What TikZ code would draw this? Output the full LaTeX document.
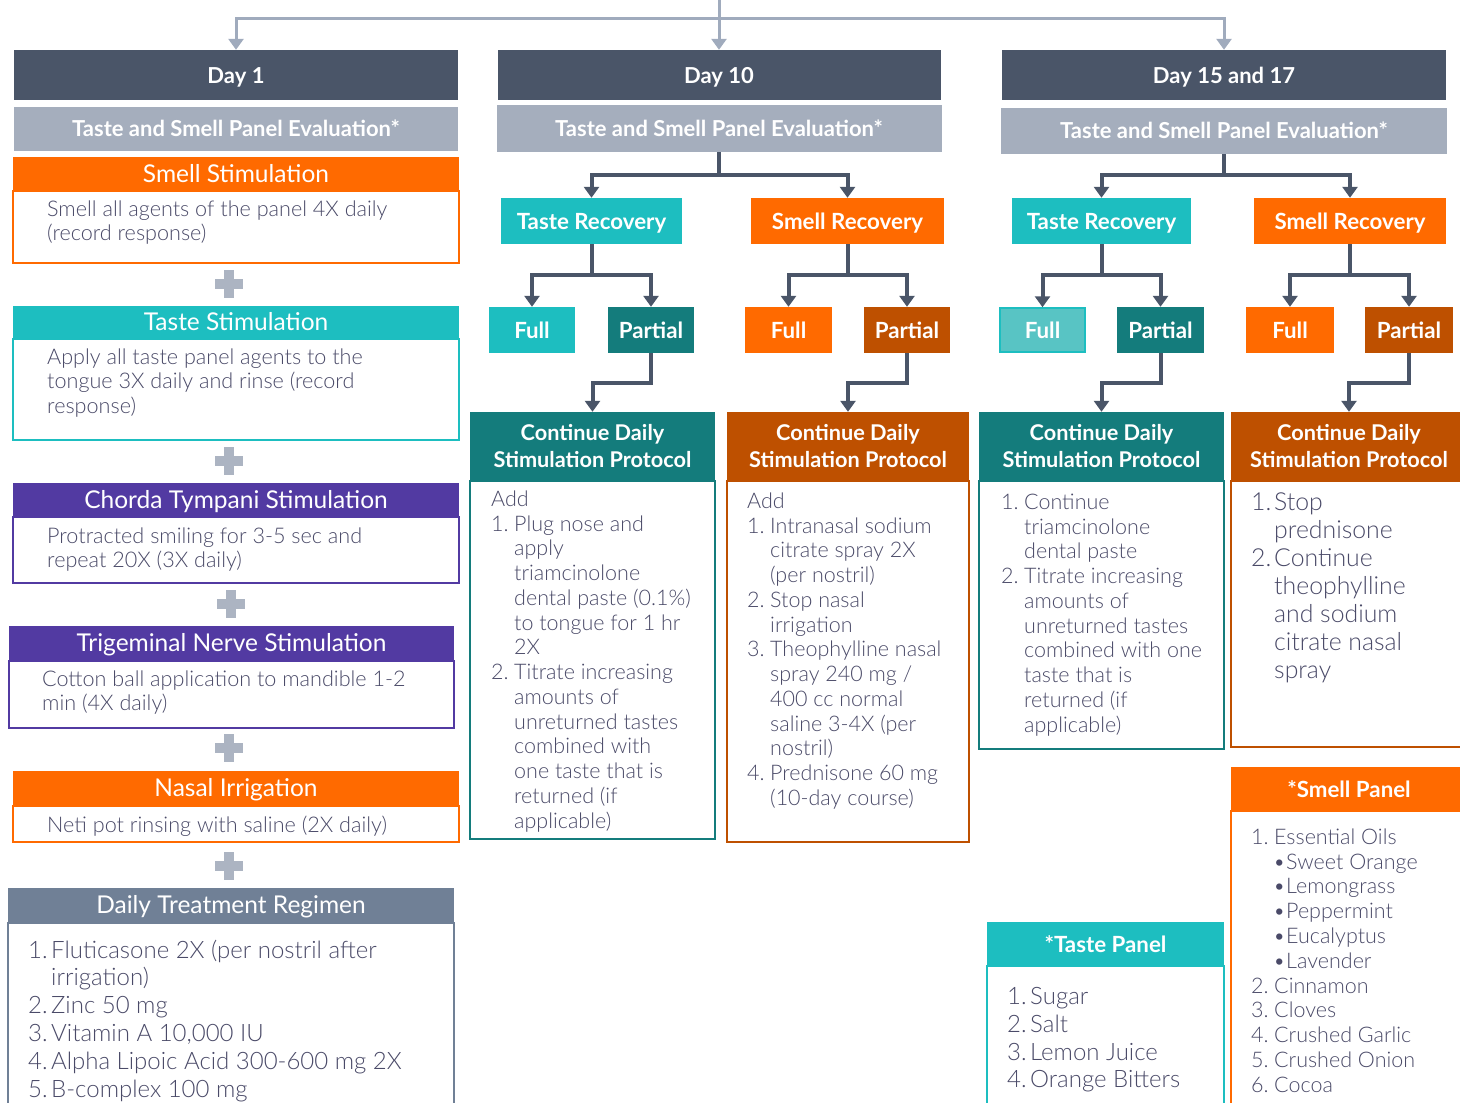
\documentclass[tikz,border=0pt]{standalone}
\usepackage{fontspec}
\setmainfont{Lato}
\IfFontExistsTF{Lato Light}{\newfontfamily\bodyfont{Lato Light}}{\newfontfamily\bodyfont{Lato}}
\usetikzlibrary{arrows.meta, positioning}
\definecolor{dayslate}{RGB}{74,85,104}
\definecolor{evalgray}{RGB}{165,174,189}
\definecolor{regimengray}{RGB}{112,128,150}
\definecolor{linkgray}{RGB}{160,171,189}
\definecolor{plusgray}{RGB}{172,180,194}
\definecolor{tasteteal}{RGB}{29,190,192}
\definecolor{tastelight}{RGB}{88,196,196}
\definecolor{tastedark}{RGB}{20,124,124}
\definecolor{smellorange}{RGB}{255,106,0}
\definecolor{smelldark}{RGB}{190,80,0}
\definecolor{nervepurple}{RGB}{82,58,162}
\definecolor{bodytext}{RGB}{74,74,104}
\newcommand{\lnum}[1]{\makebox[23pt][l]{#1}}
\newcommand{\lgap}{\hspace*{23pt}}
\newcommand{\lbul}{\hspace*{22pt}\makebox[13pt][l]{\textbullet}}

\begin{document}
\begin{tikzpicture}[x=1pt, y=-1pt,
    dayhd/.style={fill=dayslate, text=white, minimum width=#1, minimum height=50pt,
                  inner sep=0pt, text height=17.5pt, text depth=0pt,
                  font=\bfseries\fontsize{22}{26}\selectfont},
    evalhd/.style={fill=evalgray, text=white, minimum width=#1, minimum height=45pt,
                   inner sep=0pt, text height=15.5pt, text depth=0pt,
                   font=\bfseries\fontsize{22}{26}\selectfont},
    stimhd/.style={fill=#1, text=white, minimum height=33pt, inner sep=0pt,
                   text height=17.5pt, text depth=0pt, font=\fontsize{24.5}{28}\selectfont},
    body/.style={draw=#1, line width=1.5pt, fill=white, inner sep=0pt},
    recbox/.style={fill=#1, text=white, minimum height=46pt, inner sep=0pt,
                   text height=17pt, text depth=0pt, font=\bfseries\fontsize{22.3}{26}\selectfont},
    contbox/.style={fill=#1, text=white, minimum height=68pt, inner sep=0pt, align=center,
                    font=\bfseries\fontsize{21.7}{27}\selectfont},
    panelhd/.style={fill=#1, text=white, minimum height=43pt, inner sep=0pt,
                    text height=17pt, text depth=0pt, font=\bfseries\fontsize{22.3}{26}\selectfont},
    txt/.style={anchor=north west, inner sep=0pt, align=left, text=bodytext,
                execute at begin node=\strut, font=\bodyfont\fontsize{21.6}{24.5}\selectfont},
    garrow/.style={draw=linkgray, line width=3pt, -{Triangle[width=15pt,length=11pt]}},
    darrow/.style={draw=dayslate, line width=4pt, -{Triangle[width=15pt,length=11pt]}},
    plus/.style={fill=plusgray}
  ]
  \useasboundingbox (0,0) rectangle (1460,1103);

  % day headers
  \node[dayhd=444pt] (d1) at (236,75) {Day 1};
  \node[dayhd=443pt] (d10) at (719,75) {Day 10};
  \node[dayhd=444pt] (d15) at (1224,75) {Day 15 and 17};
  \node[evalhd=444pt, minimum height=44pt] (e1) at (236,129) {Taste and Smell Panel Evaluation*};
  \node[evalhd=445pt, minimum height=47pt] (e10) at (719,128.5) {Taste and Smell Panel Evaluation*};
  \node[evalhd=446pt, minimum height=46pt] (e15) at (1224,131) {Taste and Smell Panel Evaluation*};

  \coordinate (top) at (719,0);
  \coordinate (hub) at (719,18);
  \draw[draw=linkgray, line width=3pt] (top) -- (hub);
  \draw[garrow] (hub) -| (d1.north);
  \draw[garrow] (hub) -- (d10.north);
  \draw[garrow] (hub) -| (d15.north);

  % day 1
  \node[body=smellorange, minimum width=446pt, minimum height=72pt, anchor=north] (ssb) at (236,190) {};
  \node[stimhd=smellorange, minimum width=446pt] (ss) at (236,173.5) {Smell Stimulation};
  \node[txt] (ssx) at (47,200.5) {Smell all agents of the panel 4X daily\\(record response)};

  \node[body=tasteteal, minimum width=446pt, minimum height=101pt, anchor=north] (tsb) at (236,338) {};
  \node[stimhd=tasteteal, minimum width=446pt, minimum height=32pt] (ts) at (236,322) {Taste Stimulation};
  \node[txt] (tsx) at (47,348.5) {Apply all taste panel agents to the\\tongue 3X daily and rinse (record\\response)};

  \node[body=nervepurple, minimum width=446pt, minimum height=66pt, anchor=north] (ctb) at (236,516) {};
  \node[stimhd=nervepurple, minimum width=446pt] (ct) at (236,499.5) {Chorda Tympani Stimulation};
  \node[txt] (ctx) at (47,527.5) {Protracted smiling for 3-5 sec and\\repeat 20X (3X daily)};

  \node[body=nervepurple, minimum width=445pt, minimum height=67pt, anchor=north] (tgb) at (231.5,660) {};
  \node[stimhd=nervepurple, minimum width=445pt, minimum height=34pt] (tg) at (231.5,643) {Trigeminal Nerve Stimulation};
  \node[txt] (tgx) at (42,670.5) {Cotton ball application to mandible 1-2\\min (4X daily)};

  \node[body=smellorange, minimum width=446pt, minimum height=36pt, anchor=north] (nib) at (236,805) {};
  \node[stimhd=smellorange, minimum width=446pt, minimum height=34pt] (ni) at (236,788) {Nasal Irrigation};
  \node[txt] (nix) at (47,815.5) {Neti pot rinsing with saline (2X daily)};

  \node[body=regimengray, minimum width=446pt, minimum height=200pt, anchor=north] (dtb) at (231,922) {};
  \node[stimhd=regimengray, minimum width=446pt, minimum height=34pt] (dt) at (231,905) {Daily Treatment Regimen};
  \node[txt, font=\bodyfont\fontsize{24}{27.8}\selectfont] (dtx) at (28,939.6)
    {\lnum{1.}Fluticasone 2X (per nostril after\\\lgap irrigation)\\\lnum{2.}Zinc 50 mg\\\lnum{3.}Vitamin A 10,000 IU\\\lnum{4.}Alpha Lipoic Acid 300-600 mg 2X\\\lnum{5.}B-complex 100 mg};

  \foreach \px/\py in {229/284, 229/461, 231/604, 229/748, 229/866} {
    \fill[plus] (\px-5,\py-14) rectangle (\px+5,\py+14);
    \fill[plus] (\px-14,\py-5) rectangle (\px+14,\py+5);
  }

  % day 10
  \node[recbox=tasteteal, minimum width=181pt] (tr10) at (591.5,221) {Taste Recovery};
  \node[recbox=smellorange, minimum width=193pt] (sr10) at (847.5,221) {Smell Recovery};
  \node[recbox=tasteteal, minimum width=86pt] (f10t) at (532,330) {Full};
  \node[recbox=tastedark, minimum width=86pt] (p10t) at (651,330) {Partial};
  \node[recbox=smellorange, minimum width=87pt] (f10s) at (788.5,330) {Full};
  \node[recbox=smelldark, minimum width=86pt] (p10s) at (907,330) {Partial};
  \node[body=tastedark, minimum width=245pt, minimum height=358pt, anchor=north] (c10tb) at (592.5,480) {};
  \node[contbox=tastedark, minimum width=245pt] (c10t) at (592.5,446) {Continue Daily\\Stimulation Protocol};
  \node[body=smelldark, minimum width=242pt, minimum height=361pt, anchor=north] (c10sb) at (848,480) {};
  \node[contbox=smelldark, minimum width=242pt] (c10s) at (848,446) {Continue Daily\\Stimulation Protocol};

  \draw[darrow] (e10.south) -- ++(0,23) -| (tr10.north);
  \draw[darrow] (e10.south) -- ++(0,23) -| (sr10.north);
  \draw[darrow] (tr10.south) -- ++(0,31) -| (f10t.north);
  \draw[darrow] (tr10.south) -- ++(0,31) -| (p10t.north);
  \draw[darrow] (sr10.south) -- ++(0,31) -| (f10s.north);
  \draw[darrow] (sr10.south) -- ++(0,31) -| (p10s.north);
  \draw[darrow] (p10t.south) -- ++(0,30) -| (c10t.north);
  \draw[darrow] (p10s.south) -- ++(0,30) -| (c10s.north);

  \node[txt, font=\bodyfont\fontsize{21.5}{24.75}\selectfont] (c10tx) at (491,490.6)
    {Add\\\lnum{1.}Plug nose and\\\lgap apply\\\lgap triamcinolone\\\lgap dental paste (0.1\%)\\\lgap to tongue for 1 hr\\\lgap 2X\\%
     \lnum{2.}Titrate increasing\\\lgap amounts of\\\lgap unreturned tastes\\\lgap combined with\\\lgap one taste that is\\\lgap returned (if\\\lgap applicable)};
  \node[txt, font=\bodyfont\fontsize{21.5}{24.75}\selectfont] (c10sx) at (747,492.6)
    {Add\\\lnum{1.}Intranasal sodium\\\lgap citrate spray 2X\\\lgap (per nostril)\\\lnum{2.}Stop nasal\\\lgap irrigation\\%
     \lnum{3.}Theophylline nasal\\\lgap spray 240 mg /\\\lgap 400 cc normal\\\lgap saline 3-4X (per\\\lgap nostril)\\%
     \lnum{4.}Prednisone 60 mg\\\lgap (10-day course)};

  % day 15 and 17
  \node[recbox=tasteteal, minimum width=179pt] (tr15) at (1101.5,221) {Taste Recovery};
  \node[recbox=smellorange, minimum width=192pt] (sr15) at (1350,221) {Smell Recovery};
  \node[recbox=tastelight, draw=tasteteal, line width=1.5pt, minimum width=85pt, minimum height=44pt] (f15t) at (1042.5,330) {Full};
  \node[recbox=tastedark, minimum width=87pt] (p15t) at (1160.5,330) {Partial};
  \node[recbox=smellorange, minimum width=88pt] (f15s) at (1290,330) {Full};
  \node[recbox=smelldark, minimum width=88pt] (p15s) at (1409,330) {Partial};
  \node[body=tastedark, minimum width=245pt, minimum height=268pt, anchor=north] (c15tb) at (1101.5,480) {};
  \node[contbox=tastedark, minimum width=245pt] (c15t) at (1101.5,446) {Continue Daily\\Stimulation Protocol};
  \node[body=smelldark, minimum width=236pt, minimum height=266pt, anchor=north] (c15sb) at (1349,480) {};
  \node[contbox=smelldark, minimum width=236pt] (c15s) at (1349,446) {Continue Daily\\Stimulation Protocol};

  \draw[darrow] (e15.south) -- ++(0,21) -| (tr15.north);
  \draw[darrow] (e15.south) -- ++(0,21) -| (sr15.north);
  \draw[darrow] (tr15.south) -- ++(0,31) -| (f15t.north);
  \draw[darrow] (tr15.south) -- ++(0,31) -| (p15t.north);
  \draw[darrow] (sr15.south) -- ++(0,31) -| (f15s.north);
  \draw[darrow] (sr15.south) -- ++(0,31) -| (p15s.north);
  \draw[darrow] (p15t.south) -- ++(0,30) -| (c15t.north);
  \draw[darrow] (p15s.south) -- ++(0,30) -| (c15s.north);

  \node[txt, font=\bodyfont\fontsize{21.5}{24.75}\selectfont] (c15tx) at (1001,493.6)
    {\lnum{1.}Continue\\\lgap triamcinolone\\\lgap dental paste\\%
     \lnum{2.}Titrate increasing\\\lgap amounts of\\\lgap unreturned tastes\\\lgap combined with one\\\lgap taste that is\\\lgap returned (if\\\lgap applicable)};
  \node[txt, font=\bodyfont\fontsize{24.8}{28}\selectfont] (c15sx) at (1251,492.3)
    {\lnum{1.}Stop\\\lgap prednisone\\\lnum{2.}Continue\\\lgap theophylline\\\lgap and sodium\\\lgap citrate nasal\\\lgap spray};

  % panels
  \node[body=tasteteal, minimum width=237pt, minimum height=160pt, anchor=north] (tpb) at (1105.5,965) {};
  \node[panelhd=tasteteal, minimum width=237pt] (tp) at (1105.5,943.5) {*Taste Panel};
  \node[txt, font=\bodyfont\fontsize{24}{27.7}\selectfont] (tpx) at (1007,987.5)
    {\lnum{1.}Sugar\\\lnum{2.}Salt\\\lnum{3.}Lemon Juice\\\lnum{4.}Orange Bitters};

  \node[body=smellorange, minimum width=236pt, minimum height=310pt, anchor=north] (spb) at (1349,810) {};
  \node[panelhd=smellorange, minimum width=236pt] (sp) at (1349,788.5) {*Smell Panel};
  \node[txt, font=\bodyfont\fontsize{21.5}{24.8}\selectfont] (spx) at (1251,828.5)
    {\lnum{1.}Essential Oils\\\lbul Sweet Orange\\\lbul Lemongrass\\\lbul Peppermint\\\lbul Eucalyptus\\\lbul Lavender\\%
     \lnum{2.}Cinnamon\\\lnum{3.}Cloves\\\lnum{4.}Crushed Garlic\\\lnum{5.}Crushed Onion\\\lnum{6.}Cocoa};
\end{tikzpicture}
\end{document}
